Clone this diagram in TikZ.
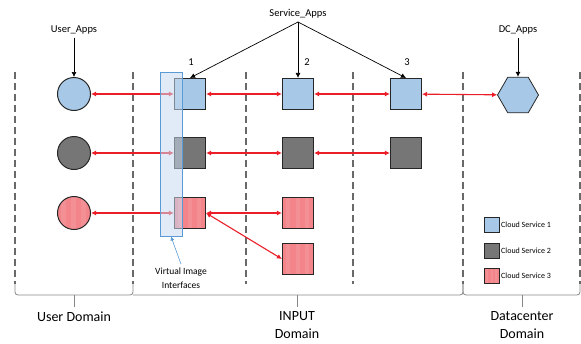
\documentclass[tikz,border=0pt]{standalone}
\usepackage{fontspec}
\setmainfont{Carlito}
\usepackage{tikz}
\usetikzlibrary{shapes.geometric,arrows.meta,calc}

\definecolor{svcblue}{RGB}{167,201,231}
\definecolor{svcgray}{RGB}{118,118,118}
\definecolor{svcpink}{RGB}{242,132,138}
\definecolor{edgedark}{RGB}{38,38,38}
\definecolor{linkred}{RGB}{235,30,40}
\definecolor{viiblue}{RGB}{91,155,213}
\definecolor{viifill}{RGB}{200,219,240}
\definecolor{domgray}{RGB}{105,105,105}

\tikzset{
  svc/.style={draw=edgedark,line width=1.1pt,minimum size=31pt,inner sep=0pt},
  usr/.style={circle,draw=edgedark,line width=1pt,minimum size=33pt,inner sep=0pt},
  striped/.style={fill=svcpink,path picture={
    \foreach \f in {0.12,0.42,0.72}{
      \fill[white,opacity=0.1] ($(path picture bounding box.south west)!\f!(path picture bounding box.south east)$)
        rectangle ($(path picture bounding box.north west)!\f+0.13!(path picture bounding box.north east)$);}}},
  link/.style={{Latex[length=5pt,width=5pt]}-{Latex[length=5pt,width=5pt]},linkred,line width=1.1pt},
  app/.style={-{Latex[length=5pt,width=5pt]},black,line width=0.7pt},
  lbl/.style={font=\fontsize{10.5}{12}\selectfont},
  domlbl/.style={align=center,inner sep=1pt,font=\fontsize{14}{17.5}\selectfont},
  dom/.style={domgray,line width=1.3pt,dash pattern=on 7pt off 4pt},
  brk/.style={domgray!80,line width=0.8pt,rounded corners=3pt},
  legbox/.style={draw=edgedark,line width=1pt,minimum size=15pt,inner sep=0pt},
  leglbl/.style={anchor=west,inner sep=1pt,font=\fontsize{8}{9}\selectfont}
}

\begin{document}
\begin{tikzpicture}[x=1pt,y=-1pt]
\useasboundingbox (0,0) rectangle (581,343);

% Domain separators
\foreach \x in {15,133,246,353,463,580} {
\draw[dom] (\x,72) -- (\x,284);
}

% Domain brackets
\draw[brk] (15,284) -- (15,295) -- (133,295) -- (133,284);
\draw[brk] (74,295) -- (74,307);
\draw[brk] (133,295) -- (463,295) -- (463,284);
\draw[brk] (297,295) -- (297,307);
\draw[brk] (463,284) -- (463,295) -- (580,295) -- (580,284);
\draw[brk] (522,295) -- (522,307);
\node[domlbl] (dom1) at (74,317) {User Domain};
\node[domlbl] (dom2) at (297,325) {INPUT\\Domain};
\node[domlbl] (dom3) at (522,325) {Datacenter\\Domain};

% User side
\node[usr,fill=svcblue] (u1) at (74,94) {};
\node[usr,fill=svcgray] (u2) at (74,153) {};
\node[usr,striped] (u3) at (74,213) {};

% Cloud services
\node[svc,fill=svcblue] (s11) at (190,94) {};
\node[svc,fill=svcblue] (s12) at (298,94) {};
\node[svc,fill=svcblue] (s13) at (406,94) {};
\node[svc,fill=svcgray] (s21) at (190,153) {};
\node[svc,fill=svcgray] (s22) at (298,153) {};
\node[svc,fill=svcgray] (s23) at (406,153) {};
\node[svc,striped] (s31) at (190,213) {};
\node[svc,striped] (s32) at (298,213) {};
\node[svc,striped] (s33) at (298,259) {};

% Datacenter
\node[regular polygon,regular polygon sides=6,draw=edgedark,line width=0.8pt,fill=svcblue,minimum size=41pt,inner sep=0pt] (dc) at (518,95) {};

% Links
\draw[link] (u1) -- (s11);
\draw[link] (s11) -- (s12);
\draw[link] (s12) -- (s13);
\draw[link] (s13) -- (dc);
\draw[link] (u2) -- (s21);
\draw[link] (s21) -- (s22);
\draw[link] (s22) -- (s23);
\draw[link] (u3) -- (s31);
\draw[link] (s31) -- (s32);
\draw[link] (s31.east) -- (s33.west);

% Virtual image interfaces
\node[draw=viiblue,line width=0.9pt,fill=viifill,fill opacity=0.55,minimum width=22pt,minimum height=164pt,inner sep=0pt] (vii) at (171,154) {};
\node[align=center,font=\fontsize{9.5}{14}\selectfont] (viilbl) at (181,278) {Virtual Image\\Interfaces};
\draw[-{Latex[length=4pt,width=4pt]},viiblue,line width=0.6pt] (viilbl.north) -- (vii.south);

% Applications
\node[lbl] (userapps) at (74,30) {User\_Apps};
\node[lbl] (svcapps) at (298,14) {Service\_Apps};
\node[lbl] (dcapps) at (518,30) {DC\_Apps};
\draw[app] (userapps) -- (u1);
\draw[app] (svcapps.south) -- (s11.north);
\draw[app] (svcapps.south) -- (s12.north);
\draw[app] (svcapps.south) -- (s13.north);
\draw[app] (dcapps) -- (dc);
\node[lbl] (n1) at (191,62) {1};
\node[lbl] (n2) at (307,62) {2};
\node[lbl] (n3) at (407,62) {3};

% Legend
\node[legbox,fill=svcblue] (lg1) at (492,225) {};
\node[legbox,fill=svcgray] (lg2) at (492,251) {};
\node[legbox,striped] (lg3) at (492,276) {};
\node[leglbl] (lt1) at (lg1.east) {Cloud Service 1};
\node[leglbl] (lt2) at (lg2.east) {Cloud Service 2};
\node[leglbl] (lt3) at (lg3.east) {Cloud Service 3};
\end{tikzpicture}
\end{document}
